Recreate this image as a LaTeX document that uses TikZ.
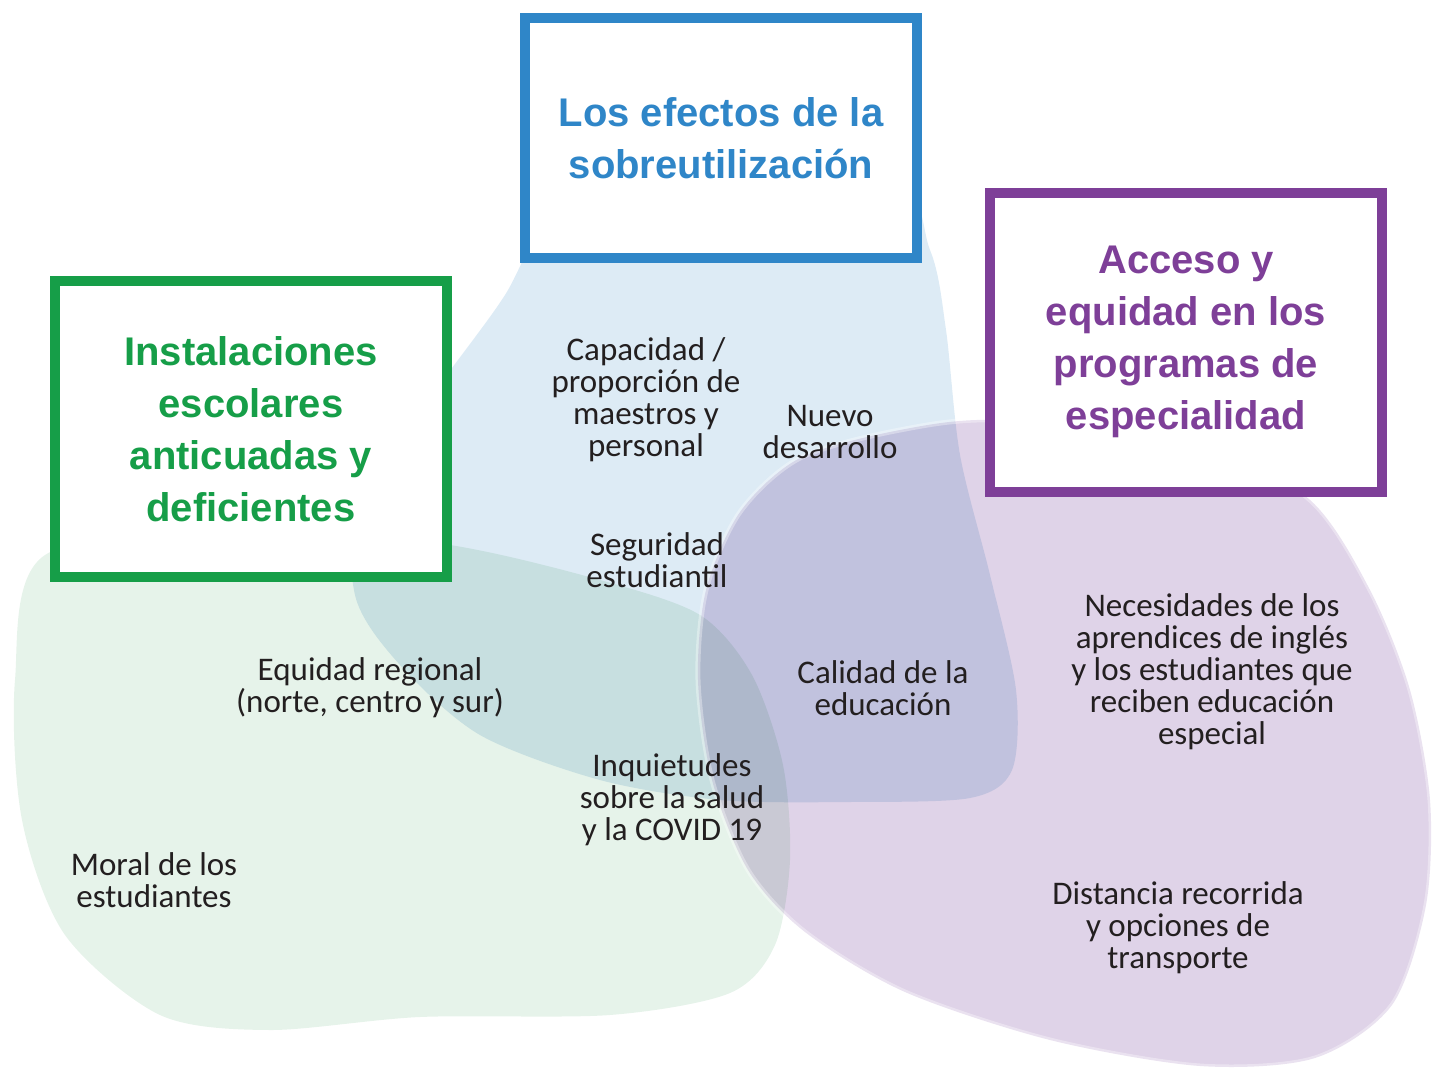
\documentclass[tikz,border=0pt]{standalone}
\usepackage{fontspec}
\setmainfont{Carlito}
\newfontfamily\titulo{Liberation Sans}

\definecolor{azul}{HTML}{2F86C8}
\definecolor{verde}{HTML}{169E48}
\definecolor{morado}{HTML}{7E3F98}
\definecolor{azulclaro}{HTML}{DDEBF5}
\definecolor{verdeclaro}{HTML}{E6F3EA}
\definecolor{moradoclaro}{HTML}{DFD3E8}
\definecolor{texto}{HTML}{231F20}

\tikzset{
  caja/.style={draw, line width=10pt, fill=white, align=center, inner sep=0pt,
    font=\titulo\bfseries\fontsize{40}{52}\selectfont},
  etiqueta/.style={align=center, text=texto, inner sep=0pt,
    font=\fontsize{33}{32}\selectfont},
}

\begin{document}
\begin{tikzpicture}[x=1pt,y=-1pt]
    \useasboundingbox (0,0) rectangle (1432,1070);

    % Manchas de color
    \begin{scope}[blend group=multiply]
        \fill[verdeclaro] plot[smooth cycle] coordinates {(45,555) (15,680) (22,820) (65,935) (160,1015) (270,1030) (420,1017) (610,1015) (730,993) (775,945) (790,860) (783,765) (752,675) (700,615) (600,580) (450,545) (250,525)};
        \fill[azulclaro] plot[smooth cycle] coordinates {(600,170) (880,170) (930,250) (946,330) (960,455) (990,575) (1016,690) (1012,770) (970,798) (850,802) (720,800) (600,780) (480,735) (400,665) (355,595) (360,490) (452,368) (505,295) (540,230)};
        \fill[moradoclaro] plot[smooth cycle] coordinates {(1000,420) (900,430) (800,458) (740,512) (706,590) (698,680) (712,780) (748,870) (805,932) (905,992) (1050,1040) (1200,1066) (1315,1058) (1392,1005) (1426,905) (1430,800) (1410,690) (1370,590) (1310,500) (1200,440)};
    \end{scope}
    \draw[white, opacity=0.35, line width=5pt] plot[smooth cycle] coordinates {(1000,420) (900,430) (800,458) (740,512) (706,590) (698,680) (712,780) (748,870) (805,932) (905,992) (1050,1040) (1200,1066) (1315,1058) (1392,1005) (1426,905) (1430,800) (1410,690) (1370,590) (1310,500) (1200,440)};

    % Cajas de titulo
    \node[caja, draw=azul, text=azul, minimum width=392pt, minimum height=240pt] (efectos) at (721,138) {Los efectos de la\\sobreutilización};
    \node[caja, draw=verde, text=verde, minimum width=392pt, minimum height=296pt] (instalaciones) at (251,429) {Instalaciones\\escolares\\anticuadas y\\deficientes};
    \node[caja, draw=morado, text=morado, minimum width=392pt, minimum height=299pt] (acceso) at (1186,342) {Acceso y\\equidad en los\\programas de\\especialidad};

    % Etiquetas
    \node[etiqueta] (capacidad) at (646,400) {Capacidad /\\proporción de\\maestros y\\personal};
    \node[etiqueta] (nuevo) at (830,432) {Nuevo\\desarrollo};
    \node[etiqueta] (seguridad) at (657,560) {Seguridad\\estudiantil};
    \node[etiqueta] (equidad) at (370,688) {Equidad regional\\(norte, centro y sur)};
    \node[etiqueta] (calidad) at (883,688) {Calidad de la\\educación};
    \node[etiqueta] (necesidades) at (1212,672) {Necesidades de los\\aprendices de inglés\\y los estudiantes que\\reciben educación\\especial};
    \node[etiqueta] (inquietudes) at (672,800) {Inquietudes\\sobre la salud\\y la COVID 19};
    \node[etiqueta] (moral) at (154,880) {Moral de los\\estudiantes};
    \node[etiqueta] (distancia) at (1178,928) {Distancia recorrida\\y opciones de\\transporte};

\end{tikzpicture}
\end{document}
